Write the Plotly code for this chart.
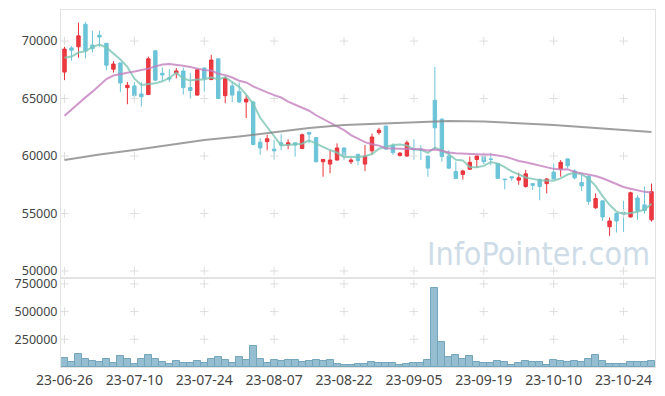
import plotly.graph_objects as go
from plotly.subplots import make_subplots

dates = ["23-06-26","23-06-27","23-06-28","23-06-29","23-06-30",
         "23-07-03","23-07-04","23-07-05","23-07-06","23-07-07","23-07-10","23-07-11","23-07-12","23-07-13","23-07-14",
         "23-07-17","23-07-18","23-07-19","23-07-20","23-07-21","23-07-24","23-07-25","23-07-26","23-07-27","23-07-28","23-07-31",
         "23-08-01","23-08-02","23-08-03","23-08-04","23-08-07","23-08-08","23-08-09","23-08-10","23-08-11","23-08-14",
         "23-08-16","23-08-17","23-08-18","23-08-21","23-08-22","23-08-23","23-08-24","23-08-25","23-08-28","23-08-29",
         "23-08-30","23-08-31","23-09-01","23-09-04","23-09-05","23-09-06","23-09-07","23-09-08","23-09-11","23-09-12",
         "23-09-13","23-09-14","23-09-15","23-09-18","23-09-19","23-09-20","23-09-21","23-09-22","23-09-25","23-09-26",
         "23-09-27","23-10-04","23-10-05","23-10-06","23-10-10","23-10-11","23-10-12","23-10-13","23-10-16","23-10-17",
         "23-10-18","23-10-19","23-10-20","23-10-23","23-10-24","23-10-25","23-10-26","23-10-27","23-10-30"]

opens = [67300,69400,69500,71450,69650,70500,69800,67550,68100,65950,
         66100,65400,65350,69150,67200,66800,67200,67400,65950,65300,
         67650,66650,68450,65250,66100,65600,64700,64700,61200,61250,
         60600,61150,60950,61150,60650,62050,61600,59500,59300,59650,
         60700,59500,60150,59300,60450,62050,62600,60900,60050,60000,
         60600,60600,60000,64850,63200,60000,58650,58400,58850,59700,
         59950,59750,59350,58000,58200,57900,57350,57600,57950,57600,
         58600,58850,59750,58700,57700,58250,55500,56100,53850,55000,
         55100,54700,56350,55750,54450]
highs = [69500,69550,71600,71650,70900,70900,69800,68250,68100,66450,
         66450,66450,68650,69200,67700,67550,67650,67700,67200,67550,
         67700,68800,68500,66900,66450,66400,65300,64800,61550,61850,
         61400,61900,61450,61150,61950,62100,61600,59750,60500,61100,
         60750,59800,60150,60950,61950,62450,62650,61100,60350,61350,
         61450,60950,60000,67750,63300,60500,59500,58800,59950,60000,
         60000,60250,59400,58000,58200,58550,58800,57600,58050,58100,
         59350,59650,59800,58850,58500,58300,56750,56100,54650,55000,
         56100,56900,56600,57350,57600]
lows = [66600,68300,68550,68500,69000,69500,67450,67250,65550,64500,
        64950,64300,65300,66500,66500,66450,66750,65350,65000,65250,
        65600,66600,65000,64600,64700,64600,63300,60950,60100,60500,
        59700,60500,60600,59950,60600,61100,59450,58200,58500,59600,
        59650,59300,59200,58700,60100,61850,60550,60100,59950,59950,
        59650,59650,58200,60500,59500,58850,58000,57950,58800,58950,
        59300,59200,58000,57100,57850,57500,57250,57050,56150,56750,
        58000,58200,58950,57950,56950,55750,55400,54350,53050,53350,
        53400,54650,54450,55000,54300]
closes = [69300,69200,70450,69150,69350,70350,67900,68000,66350,66150,
          65250,65150,68450,66600,67050,66700,67400,65950,65700,67500,
          66750,68350,65000,66750,65300,64700,64950,61000,60700,61500,
          60450,60950,61150,60950,61850,61900,59500,59700,59650,60700,
          59950,59650,59600,60000,61650,62250,60600,60300,60250,61150,
          60550,60500,58950,62450,59950,58950,58050,58700,59450,60000,
          59500,59700,58050,57950,58100,58100,58450,57450,57350,58000,
          58000,59450,59150,58100,57400,56050,56300,54700,54350,54350,
          55050,56800,55250,55250,56900]
volumes = [79600,47200,115000,70750,56000,44200,70750,35400,97300,70750,
           26500,70750,106100,70750,44200,26500,53000,35400,35400,53000,
           35400,70750,88400,61900,35400,88400,61900,185700,70750,35400,
           61900,53000,61900,61900,44200,53000,61900,53000,61900,26500,
           17700,17700,26500,26500,44200,35400,35400,35400,17700,26500,
           35400,35400,61900,716400,230000,88400,106100,70750,97300,44200,
           35400,35400,53000,44200,17700,35400,53000,44200,44200,17700,
           61900,53000,44200,53000,44200,70750,106100,53000,26500,26500,
           26500,44200,44200,44200,53000]

ma5 = [68550,68650,69000,69100,
       69490,69700,69440,68950,68390,67750,66730,66180,66270,66320,66500,66790,67240,66740,66560,66650,
       66660,66850,66660,66870,66430,66020,65340,64540,63330,62570,61720,60920,60950,61000,61070,61360,
       61070,60780,60520,60290,59900,59930,59910,59980,60170,60630,60820,60960,61010,60910,60570,60550,
       60280,60720,60480,60160,59670,59620,59020,59030,59140,59470,59340,59040,58660,58380,58130,58010,
       57890,57870,57850,58050,58390,58540,58420,58030,57400,56510,55760,55150,54950,55050,55160,55340,55850]
ma20 = [63500,64050,64600,65100,65600,66150,66700,67000,67150,67250,
        67350,67450,67600,67800,67950,68000,67950,67850,67750,
        67598,67470,67428,67155,67035,66832,66550,66402,66052,65770,65538,65298,65088,64722,64440,64180,
        63940,63545,63232,62930,62590,62250,61815,61545,61208,61025,60902,60685,60650,60628,60610,60615,
        60592,60482,60558,60462,60315,60242,60192,60182,60148,60125,60128,60050,59948,59770,59562,59455,
        59312,59168,59010,58882,58830,58840,58622,58495,58350,58262,58062,57808,57525,57302,57158,57018,
        56882,56822]

ma120_dates = ["23-06-26","23-07-03","23-07-10","23-07-17","23-07-24","23-07-31","23-08-07","23-08-14",
               "23-08-22","23-08-29","23-09-05","23-09-12","23-09-19","23-09-26","23-10-10","23-10-17",
               "23-10-24","23-10-30"]
ma120 = [59650,60130,60520,60960,61390,61700,62090,62430,62700,62830,62960,63040,63000,62870,62700,62480,62260,62090]

price_ticks = [50000, 55000, 60000, 65000, 70000]
volume_ticks = [250000, 500000, 750000]
tick_dates = dates[::10]

fig = make_subplots(rows=2, cols=1, shared_xaxes=True, vertical_spacing=0,
                    row_heights=[268, 89])

# grid crosses at tick intersections
cross = dict(symbol="cross-thin", size=6, line=dict(color="#dedede", width=1))
gx, gy = [], []
for d in tick_dates:
    for p in price_ticks:
        gx.append(d); gy.append(p)
fig.add_trace(go.Scatter(x=gx, y=gy, mode="markers", hoverinfo="skip", showlegend=False, marker=cross),
              row=1, col=1)
vx, vy = [], []
for d in tick_dates:
    for v in volume_ticks:
        vx.append(d); vy.append(v)
fig.add_trace(go.Scatter(x=vx, y=vy, mode="markers", hoverinfo="skip", showlegend=False, marker=cross),
              row=2, col=1)

fig.add_trace(go.Candlestick(x=dates, open=opens, high=highs, low=lows, close=closes,
                             increasing=dict(line=dict(color="#e8333b", width=1), fillcolor="#ec3a42"),
                             decreasing=dict(line=dict(color="#6cc4d8", width=1), fillcolor="#6cc4d8"),
                             whiskerwidth=0, showlegend=False),
              row=1, col=1)

fig.add_trace(go.Scatter(x=dates, y=ma5, mode="lines", showlegend=False,
                         line=dict(color="rgba(125,198,180,0.8)", width=2)), row=1, col=1)
fig.add_trace(go.Scatter(x=dates, y=ma20, mode="lines", showlegend=False,
                         line=dict(color="rgba(196,128,190,0.8)", width=2)), row=1, col=1)
fig.add_trace(go.Scatter(x=ma120_dates, y=ma120, mode="lines", showlegend=False,
                         line=dict(color="rgba(135,135,135,0.8)", width=2)), row=1, col=1)

fig.add_trace(go.Bar(x=dates, y=volumes, showlegend=False,
                     marker=dict(color="rgba(143,187,206,0.95)", line=dict(color="#73a6bd", width=1))),
              row=2, col=1)

axis_line = "#e3e3e3"
fig.update_xaxes(type="category", categoryorder="array", categoryarray=dates,
                 range=[-0.5, 84.5], showgrid=False, zeroline=False, automargin=False,
                 showline=True, mirror=True, linecolor=axis_line, linewidth=1)
fig.update_xaxes(showticklabels=False, rangeslider_visible=False, row=1, col=1)
fig.update_xaxes(tickvals=tick_dates, ticktext=tick_dates, tickangle=0,
                 tickfont=dict(family="Noto Sans", size=14, color="#444444"), row=2, col=1)
fig.update_yaxes(range=[49390, 72700], tickvals=price_ticks, ticktext=[str(v) for v in price_ticks],
                 showgrid=False, zeroline=False, showline=True, mirror=True, linecolor=axis_line,
                 automargin=False,
                 tickfont=dict(family="Noto Sans", size=12.5, color="#444444"), row=1, col=1)
fig.update_yaxes(range=[0, 803000], tickvals=volume_ticks, ticktext=[str(v) for v in volume_ticks],
                 showgrid=False, zeroline=False, showline=True, mirror=True, linecolor=axis_line,
                 automargin=False,
                 tickfont=dict(family="Noto Sans", size=12.5, color="#444444"), row=2, col=1)

fig.add_annotation(text="InfoPointer.com", xref="paper", yref="paper", x=0.804, y=0.316,
                   xanchor="center", yanchor="middle", showarrow=False,
                   font=dict(family="Liberation Sans Narrow, DejaVu Sans Condensed, Roboto", size=32,
                             color="#cddce7"))

# the page body has an 8px margin, so the figure is sized to fit inside the window
fig.update_layout(width=649, height=380, margin=dict(l=53, r=2, t=2, b=21, autoexpand=False),
                  paper_bgcolor="white", plot_bgcolor="white", bargap=0, showlegend=False)

fig.write_html("out.html")
